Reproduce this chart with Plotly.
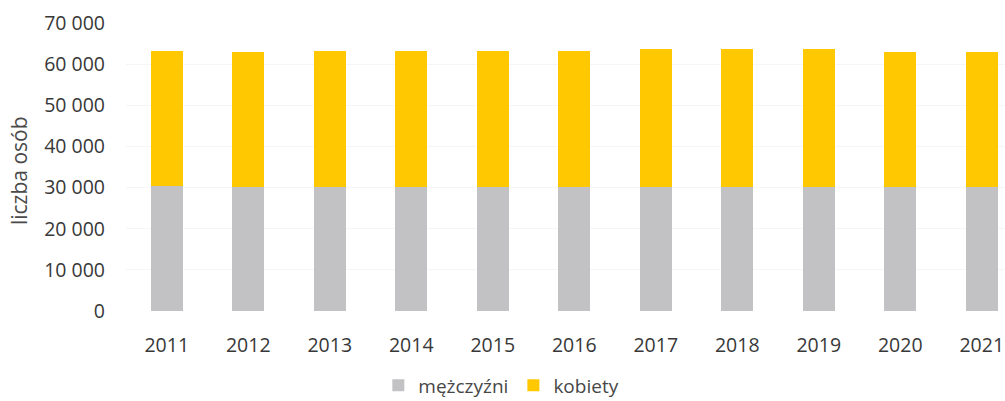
import plotly.graph_objects as go

# Population by sex, 2011-2021
years = ["2011", "2012", "2013", "2014", "2015", "2016", "2017", "2018", "2019", "2020", "2021"]
men = [30300, 30250, 30200, 30200, 30150, 30150, 30200, 30200, 30150, 30100, 30050]
women = [32850, 32800, 32900, 32900, 33000, 33000, 33400, 33400, 33450, 32900, 32850]

y_ticks = [0, 10000, 20000, 30000, 40000, 50000, 60000, 70000]
y_tick_labels = ["0", "10 000", "20 000", "30 000", "40 000", "50 000", "60 000", "70 000"]

FONT = "Open Sans"
TEXT = "#383838"

fig = go.Figure()
fig.add_trace(go.Bar(x=years, y=men, name="mężczyźni", marker=dict(color="#c2c2c4", line=dict(width=0))))
fig.add_trace(go.Bar(x=years, y=women, name="kobiety", marker=dict(color="#ffc800", line=dict(width=0))))

fig.update_layout(
    width=1005,
    height=401,
    barmode="stack",
    bargap=0.61,
    plot_bgcolor="white",
    paper_bgcolor="white",
    margin=dict(l=126, r=0, t=23, b=90, autoexpand=False),
    font=dict(family=FONT, size=19, color=TEXT),
    showlegend=True,
    legend=dict(
        orientation="h",
        x=0.427,
        xanchor="center",
        y=-0.258,
        yanchor="middle",
        font=dict(family=FONT, size=19, color="#474747"),
        itemwidth=30,
        traceorder="normal",
    ),
)

fig.update_xaxes(
    type="category",
    range=[-0.5, 10.285],
    automargin=False,
    showgrid=False,
    showline=False,
    zeroline=False,
    ticks="",
    ticklabelstandoff=20,
    tickfont=dict(family=FONT, size=19.5, color=TEXT),
)

fig.update_yaxes(
    range=[0, 70000],
    automargin=False,
    tickvals=y_ticks,
    ticktext=y_tick_labels,
    showgrid=True,
    gridcolor="#f5f5f5",
    gridwidth=1,
    zeroline=False,
    showline=False,
    ticks="",
    ticklabelstandoff=20,
    tickfont=dict(family=FONT, size=19.5, color=TEXT),
)

fig.add_annotation(
    text="liczba osób",
    xref="paper",
    yref="paper",
    x=-0.1217,
    y=0.486,
    xanchor="center",
    yanchor="middle",
    textangle=-90,
    showarrow=False,
    font=dict(family=FONT, size=21, color="#4a4a4a"),
)

fig.write_html("out.html")
